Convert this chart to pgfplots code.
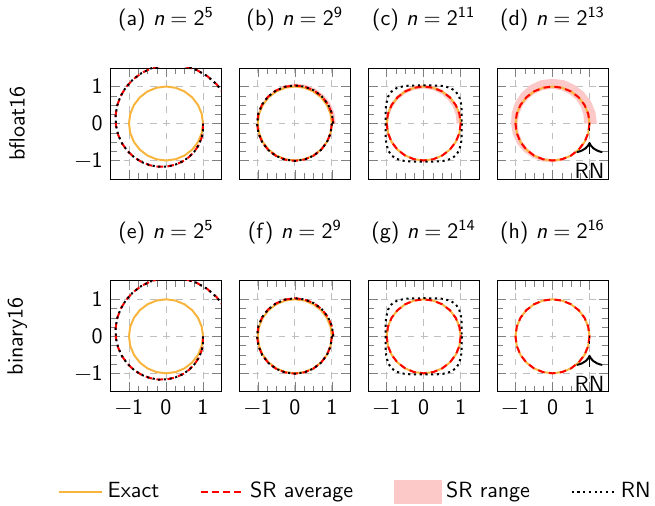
\documentclass[border=0pt]{standalone}
\usepackage{pgfplots}
\usepackage{pgfplotstable}
\pgfplotsset{compat=1.18}
\usetikzlibrary{arrows.meta}
\renewcommand{\familydefault}{\sfdefault}

\definecolor{exactc}{RGB}{248,180,60}
\definecolor{rangec}{RGB}{252,200,200}

% unit circle, 15 degree steps
\pgfplotstableread{
x y
1 0
0.96593 -0.25882
0.86603 -0.5
0.70711 -0.70711
0.5 -0.86603
0.25882 -0.96593
0 -1
-0.25882 -0.96593
-0.5 -0.86603
-0.70711 -0.70711
-0.86603 -0.5
-0.96593 -0.25882
-1 0
-0.96593 0.25882
-0.86603 0.5
-0.70711 0.70711
-0.5 0.86603
-0.25882 0.96593
0 1
0.25882 0.96593
0.5 0.86603
0.70711 0.70711
0.86603 0.5
0.96593 0.25882
1 0
}\datCircle

% Euler iterates, n = 2^5
\pgfplotstableread{
x y
1 0
1 -0.19635
0.961447 -0.39270
0.884340 -0.581480
0.770166 -0.755120
0.621898 -0.906342
0.443938 -1.028452
0.242001 -1.115619
0.022949 -1.163136
-0.205433 -1.167642
-0.434699 -1.127305
-0.656045 -1.041952
-0.860632 -0.913138
-1.039927 -0.744153
-1.186041 -0.539963
-1.292063 -0.307084
-1.352359 -0.053387
-1.362842 0.212149
-1.321186 0.479743
-1.226988 0.739158
-1.081854 0.980077
-0.889416 1.192499
-0.655269 1.367135
-0.386832 1.495797
-0.093132 1.571751
0.215481 1.590038
0.527685 1.547728
0.831581 1.444117
1.115133 1.280836
1.366625 1.061880
1.575125 0.793543
1.730937 0.484267
1.826023 0.144398
}\datSpiralA

% Euler iterates, n = 2^9 (every 15 degrees)
\pgfplotstableread{
x y
1 0
0.96748 -0.25923
0.86880 -0.50160
0.71050 -0.71050
0.50320 -0.87157
0.26092 -0.97375
0 -1.0097
-0.26174 -0.97685
-0.50645 -0.87720
-0.71743 -0.71743
-0.88006 -0.50810
-0.98312 -0.26343
-1.0195 0
-0.98631 0.26428
-0.88569 0.51135
-0.72436 0.72436
-0.51300 0.88855
-0.26599 0.99268
0 1.0293
0.26684 0.99587
0.51635 0.89435
0.73136 0.73136
0.89720 0.51800
1.00235 0.26858
1.0393 0
}\datSpiralB

% RN with stagnation: rounded square
\pgfplotstableread{
x y
1.03 0
1.0256 -0.3721
1.0123 -0.5240
0.9585 -0.7283
0.8661 -0.8661
0.7283 -0.9585
0.5240 -1.0123
0.3721 -1.0256
0 -1.03
-0.3721 -1.0256
-0.5240 -1.0123
-0.7283 -0.9585
-0.8661 -0.8661
-0.9585 -0.7283
-1.0123 -0.5240
-1.0256 -0.3721
-1.03 0
-1.0256 0.3721
-1.0123 0.5240
-0.9585 0.7283
-0.8661 0.8661
-0.7283 0.9585
-0.5240 1.0123
-0.3721 1.0256
0 1.03
0.3721 1.0256
0.5240 1.0123
0.7283 0.9585
0.8661 0.8661
0.9585 0.7283
1.0123 0.5240
1.0256 0.3721
1.03 0
}\datSquircle

% RN stagnating near the start point
\pgfplotstableread{
x y
1 0.02
1 -0.23
}\datStag

% SR range bands (outer edge then inner edge back)
\pgfplotstableread{
x y
1 0
0.9684 -0.2595
0.8705 -0.5026
0.7126 -0.7126
0.5052 -0.8750
0.2622 -0.9786
0 -1.0157
-0.2636 -0.9836
-0.5105 -0.8841
-0.7238 -0.7238
-0.8887 -0.5131
-0.9937 -0.2663
-1.0315 0
-1.0008 0.2682
-0.9030 0.5214
-0.7420 0.7420
-0.528 0.9145
-0.2763 1.0313
0 1.0793
0.2811 1.049
0.5464 0.9463
0.7773 0.7773
0.9578 0.553
1.07 0.2867
1.1093 0
1.0393 0
1.00235 0.26858
0.89720 0.51800
0.73136 0.73136
0.51635 0.89435
0.26684 0.99587
0 1.0293
-0.26599 0.99268
-0.51300 0.88855
-0.72436 0.72436
-0.88569 0.51135
-0.98631 0.26428
-1.0195 0
-0.98312 -0.26343
-0.88006 -0.50810
-0.71743 -0.71743
-0.50645 -0.87720
-0.26174 -0.97685
0 -1.0097
0.26092 -0.97375
0.50320 -0.87157
0.71050 -0.71050
0.86880 -0.50160
0.96748 -0.25923
1 0
}\datBandB

\pgfplotstableread{
x y
1 0
0.9688 -0.2596
0.8704 -0.5025
0.7121 -0.7121
0.505 -0.8747
0.2619 -0.9775
0 -1.014
-0.263 -0.9814
-0.509 -0.8816
-0.7213 -0.7213
-0.8851 -0.511
-0.9891 -0.265
-1.026 0
-0.9949 0.2666
-0.8963 0.5175
-0.7354 0.7354
-0.5225 0.905
-0.2718 1.0142
0 1.05
0.2705 1.0094
0.52 0.9007
0.7319 0.7319
0.892 0.515
0.9901 0.2653
1.02 0
0.89 0
0.8693 0.2329
0.7881 0.455
0.6505 0.6505
0.465 0.8054
0.2433 0.908
0 0.944
-0.2448 0.9138
-0.474 0.821
-0.6718 0.6718
-0.8245 0.476
-0.9225 0.2472
-0.958 0
-0.9292 -0.249
-0.8366 -0.483
-0.6859 -0.6859
-0.487 -0.8435
-0.2529 -0.9437
0 -0.98
0.2547 -0.9505
0.4935 -0.8548
0.7 -0.7
0.8608 -0.497
0.963 -0.258
1 0
}\datBandC

\pgfplotstableread{
x y
1 0
0.9756 -0.2614
0.8790 -0.5075
0.7213 -0.7213
0.5150 -0.8920
0.2692 -1.0046
0 -1.05
-0.2743 -1.0239
-0.535 -0.9267
-0.7672 -0.7672
-0.9526 -0.55
-1.0722 -0.2873
-1.12 0
-1.1012 0.2951
-1.0046 0.58
-0.8344 0.8344
-0.6 1.0392
-0.3132 1.1688
0 1.21
0.3132 1.1688
0.6 1.0392
0.8485 0.8485
1.0392 0.6
1.1591 0.3106
1.2 0
0.85 0
0.8404 0.2252
0.7708 0.445
0.6435 0.6435
0.46 0.7967
0.2407 0.8983
0 0.94
-0.2433 0.9080
-0.47 0.8141
-0.6647 0.6647
-0.8141 0.47
-0.9080 0.2433
-0.94 0
-0.9128 -0.2446
-0.8227 -0.475
-0.6753 -0.6753
-0.48 -0.8314
-0.2498 -0.9321
0 -0.97
0.2524 -0.9418
0.49 -0.8487
0.6965 -0.6965
0.8574 -0.495
0.9611 -0.2575
1 0
}\datBandD

\pgfplotsset{
  exactline/.style={color=exactc, line width=0.9pt},
  sravg/.style={red, line width=0.9pt, dash pattern=on 3pt off 2pt},
  rnline/.style={black, line width=0.9pt, dash pattern=on 1pt off 1.6pt},
  srrange/.style={fill=rangec, draw=none},
  panel/.style={
    anchor=south west,
    scale only axis,
    width=50.5pt, height=50.5pt,
    xmin=-1.5, xmax=1.5, ymin=-1.5, ymax=1.5,
    xtick={-1,0,1}, ytick={-1,0,1},
    xticklabels={}, yticklabels={},
    minor tick num=3,
    grid=major,
    major grid style={dashed, gray!50},
    tick align=inside,
    title style={at={(0.5,1.32)}, anchor=center},
    every axis y label/.style={at={(axis description cs:-0.84,0.5)}, rotate=90, anchor=center},
  },
  xlab/.style={xticklabels={−1,0,1}},
  ylab/.style={yticklabels={−1,0,1}},
}

\begin{document}
\begin{tikzpicture}
% (a)
\begin{axis}[panel, ylab, at={(0pt,96.8pt)}, title={(a) \textit{n}\;=\;2\textsuperscript{5}}, ylabel={bfloat16}]
\addplot[exactline] table {\datCircle};
\addplot[sravg] table {\datSpiralA};
\addplot[rnline] table {\datSpiralA};
\end{axis}
% (b)
\begin{axis}[panel, at={(58.6pt,96.8pt)}, title={(b) \textit{n}\;=\;2\textsuperscript{9}}]
\addplot[srrange] table {\datBandB};
\addplot[exactline] table {\datCircle};
\addplot[sravg] table {\datSpiralB};
\addplot[rnline] table {\datSpiralB};
\end{axis}
% (c)
\begin{axis}[panel, at={(117.2pt,96.8pt)}, title={(c) \textit{n}\;=\;2\textsuperscript{11}}]
\addplot[srrange] table {\datBandC};
\addplot[exactline] table {\datCircle};
\addplot[sravg] table {\datCircle};
\addplot[rnline] table {\datSquircle};
\end{axis}
% (d)
\begin{axis}[panel, at={(175.8pt,96.8pt)}, title={(d) \textit{n}\;=\;2\textsuperscript{13}}]
\addplot[srrange] table {\datBandD};
\addplot[exactline] table {\datCircle};
\addplot[sravg] table {\datCircle};
\addplot[rnline] table {\datStag};
\draw[line width=0.9pt, -{To[length=5pt,width=12pt]}] (axis cs:1,-0.82) -- (axis cs:1,-0.5);
\node at (axis cs:1,-1.28) {RN};
\end{axis}
% (e)
\begin{axis}[panel, xlab, ylab, at={(0pt,0pt)}, title={(e) \textit{n}\;=\;2\textsuperscript{5}}, ylabel={binary16},
  legend columns=4,
  legend style={at={(2.214,-0.90)}, anchor=center, draw=none, fill=none,
    inner xsep=0pt, inner ysep=0pt,
    /tikz/every even column/.append style={column sep=16.5pt}},
  legend image code/.code={\draw[#1] (0cm,0cm) -- (0.7cm,0cm);}]
\addlegendimage{exactline}
\addlegendentry{Exact}
\addlegendimage{sravg}
\addlegendentry{SR average}
\addlegendimage{legend image code/.code={\fill[rangec] (0cm,-0.18cm) rectangle (0.75cm,0.18cm);}}
\addlegendentry{SR range}
\addlegendimage{rnline}
\addlegendentry{RN}
\addplot[exactline] table {\datCircle};
\addplot[sravg] table {\datSpiralA};
\addplot[rnline] table {\datSpiralA};
\end{axis}
% (f)
\begin{axis}[panel, xlab, at={(58.6pt,0pt)}, title={(f) \textit{n}\;=\;2\textsuperscript{9}}]
\addplot[exactline] table {\datCircle};
\addplot[sravg] table {\datSpiralB};
\addplot[rnline] table {\datSpiralB};
\end{axis}
% (g)
\begin{axis}[panel, xlab, at={(117.2pt,0pt)}, title={(g) \textit{n}\;=\;2\textsuperscript{14}}]
\addplot[exactline] table {\datCircle};
\addplot[sravg] table {\datCircle};
\addplot[rnline] table {\datSquircle};
\end{axis}
% (h)
\begin{axis}[panel, xlab, at={(175.8pt,0pt)}, title={(h) \textit{n}\;=\;2\textsuperscript{16}}]
\addplot[exactline] table {\datCircle};
\addplot[sravg] table {\datCircle};
\addplot[rnline] table {\datStag};
\draw[line width=0.9pt, -{To[length=5pt,width=12pt]}] (axis cs:1,-0.82) -- (axis cs:1,-0.5);
\node at (axis cs:1,-1.28) {RN};
\end{axis}
\end{tikzpicture}
\end{document}
